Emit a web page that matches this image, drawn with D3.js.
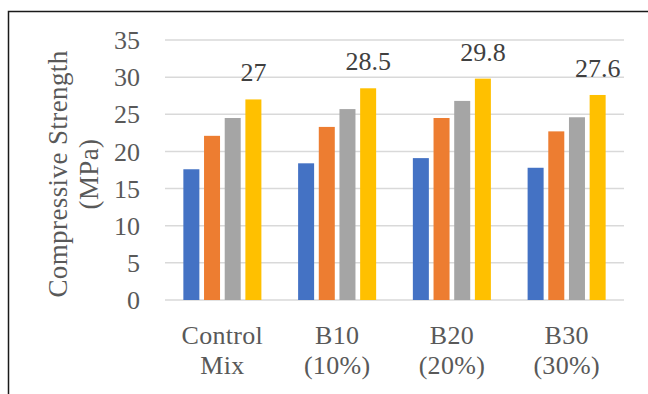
<!DOCTYPE html>
<html>
<head>
<meta charset="utf-8">
<script src="https://cdn.jsdelivr.net/npm/d3@7/dist/d3.min.js"></script>
<style>
  html, body { margin: 0; padding: 0; background: #fff; }
  svg { display: block; }
</style>
</head>
<body>
<svg id="chart" width="648" height="394"></svg>
<script>
// Mix designs along the x axis (two-line labels)
const categories = ["Control Mix", "B10 (10%)", "B20 (20%)", "B30 (30%)"];
const categoryLines = [["Control", "Mix"], ["B10", "(10%)"], ["B20", "(20%)"], ["B30", "(30%)"]];
// Four curing-age series per mix
const seriesKeys = ["s1", "s2", "s3", "s4"];
const series1 = [17.6, 18.4, 19.1, 17.8];
const series2 = [22.1, 23.3, 24.5, 22.7];
const series3 = [24.5, 25.7, 26.8, 24.6];
const series4 = [27, 28.5, 29.8, 27.6];
const seriesColors = ["#4472C4", "#ED7D31", "#A5A5A5", "#FFC000"];
const yTicks = [0, 5, 10, 15, 20, 25, 30, 35];
const yTitleLines = ["Compressive Strength", "(MPa)"];

const allSeries = [series1, series2, series3, series4];
const rows = categories.map((c, i) => ({
  cat: c,
  values: allSeries.map((s, j) => ({ key: seriesKeys[j], value: s[i], idx: j }))
}));

const svg = d3.select("#chart");
const font = "'Liberation Serif', 'DejaVu Serif', serif";

const plotLeft = 165, plotRight = 624, plotTop = 40, plotBottom = 300;

const x0 = d3.scaleBand().domain(categories).range([plotLeft, plotRight])
  .paddingInner(0.32).paddingOuter(0.16);
const x1 = d3.scaleBand().domain(seriesKeys).range([0, x0.bandwidth()])
  .paddingInner(0.226).paddingOuter(0);
const y = d3.scaleLinear().domain([0, 35]).range([plotBottom, plotTop]);

// Outer frame
svg.append("rect")
  .attr("x", 8.5).attr("y", 11.5)
  .attr("width", 700).attr("height", 500)
  .attr("fill", "none").attr("stroke", "#1a1a1a").attr("stroke-width", 1.5);

// Horizontal gridlines
svg.append("g").selectAll("line").data(yTicks).join("line")
  .attr("x1", plotLeft).attr("x2", plotRight)
  .attr("y1", d => y(d)).attr("y2", d => y(d))
  .attr("stroke", "#d9d9d9").attr("stroke-width", 1.5);

// Y axis tick labels
const yAxis = d3.axisLeft(y).tickValues(yTicks).tickSize(0).tickPadding(0);
const yg = svg.append("g").attr("transform", `translate(${plotLeft - 25},0)`).call(yAxis);
yg.select(".domain").remove();
yg.selectAll("text")
  .attr("font-family", font).attr("font-size", 26)
  .attr("fill", "#595959").attr("dy", "0.33em");

// Y axis title (two lines, rotated)
const yt = svg.append("text")
  .attr("transform", `translate(0,${(plotTop + plotBottom) / 2 + 4}) rotate(-90)`)
  .attr("text-anchor", "middle")
  .attr("font-family", font).attr("font-size", 27)
  .attr("letter-spacing", 0.4).attr("fill", "#595959");
yTitleLines.forEach((t, i) => {
  yt.append("tspan").attr("x", 0).attr("y", 67 + i * 31).text(t);
});

// Bars
const groups = svg.append("g").selectAll("g").data(rows).join("g")
  .attr("transform", d => `translate(${x0(d.cat)},0)`);
groups.selectAll("rect").data(d => d.values).join("rect")
  .attr("x", d => x1(d.key))
  .attr("y", d => y(d.value))
  .attr("width", x1.bandwidth())
  .attr("height", d => y(0) - y(d.value))
  .attr("fill", d => seriesColors[d.idx]);

// Value labels above the last series
groups.append("text")
  .attr("x", x1("s4") + x1.bandwidth() / 2)
  .attr("y", d => y(d.values[3].value) - 18)
  .attr("text-anchor", "middle")
  .attr("font-family", font).attr("font-size", 26).attr("fill", "#404040")
  .text(d => d.values[3].value);

// X axis category labels
const xl = svg.append("g").selectAll("text").data(categories).join("text")
  .attr("text-anchor", "middle")
  .attr("font-family", font).attr("font-size", 26)
  .attr("letter-spacing", 0.3).attr("fill", "#595959");
xl.each(function (d, i) {
  const cx = x0(d) + x0.bandwidth() / 2;
  categoryLines[i].forEach((t, k) => {
    d3.select(this).append("tspan").attr("x", cx).attr("y", 344 + k * 30).text(t);
  });
});
</script>
</body>
</html>
